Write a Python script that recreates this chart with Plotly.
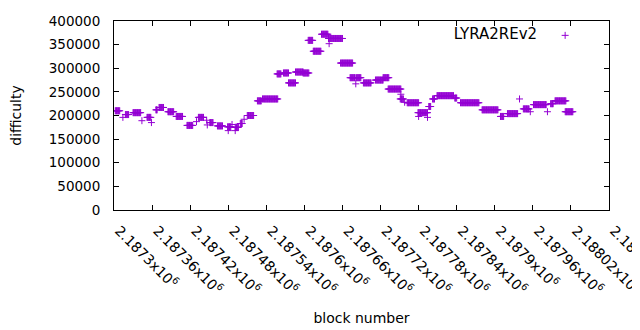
import plotly.graph_objects as go

# Difficulty runs: (first block, last block, difficulty)
run_start = [2187302, 2187314, 2187318, 2187330, 2187344, 2187352, 2187359, 2187366,
             2187371, 2187385, 2187398, 2187415, 2187430, 2187433, 2187446, 2187447,
             2187451, 2187463, 2187480, 2187479, 2187486, 2187491, 2187491, 2187499,
             2187505, 2187510, 2187526, 2187534, 2187557, 2187567, 2187575, 2187586,
             2187598, 2187606, 2187614, 2187627, 2187639, 2187638, 2187657, 2187672,
             2187681, 2187682, 2187693, 2187712, 2187724, 2187732, 2187752, 2187751,
             2187758, 2187762, 2187780, 2187779, 2187794, 2187796, 2187802, 2187809,
             2187837, 2187846, 2187880, 2187909, 2187920, 2187939, 2187945, 2187956,
             2187961, 2187983, 2187988, 2187995, 2188011]
run_end = [2187309, 2187314, 2187323, 2187342, 2187344, 2187358, 2187359, 2187368,
           2187378, 2187394, 2187408, 2187424, 2187430, 2187441, 2187446, 2187447,
           2187456, 2187471, 2187480, 2187484, 2187486, 2187491, 2187496, 2187502,
           2187505, 2187520, 2187532, 2187558, 2187563, 2187575, 2187586, 2187598,
           2187607, 2187613, 2187626, 2187637, 2187639, 2187660, 2187676, 2187680,
           2187681, 2187689, 2187705, 2187724, 2187733, 2187752, 2187752, 2187756,
           2187758, 2187780, 2187780, 2187794, 2187794, 2187799, 2187805, 2187835,
           2187840, 2187875, 2187905, 2187914, 2187936, 2187939, 2187954, 2187956,
           2187981, 2187983, 2187992, 2188012, 2188023]
run_diff = [210000, 196000, 202000, 206000, 189000, 196000, 185000, 212000,
            217000, 208000, 198000, 179000, 187000, 196000, 190000, 180000,
            185000, 178000, 168000, 176000, 181000, 168000, 175000, 183000,
            192000, 200000, 231000, 235000, 288000, 290000, 269000, 292000,
            290000, 359000, 336000, 372000, 352000, 363000, 311000, 280000,
            267000, 280000, 269000, 275000, 280000, 256000, 245000, 235000,
            228000, 227000, 198000, 206000, 196000, 219000, 235000, 242000,
            237000, 227000, 212000, 198000, 204000, 235000, 214000, 208000,
            223000, 208000, 225000, 231000, 208000]

x_tick_vals = [2187300, 2187360, 2187420, 2187480, 2187540, 2187600, 2187660,
               2187720, 2187780, 2187840, 2187900, 2187960, 2188020, 2188080]
x_tick_text = ["2.1873x10<sup>6</sup>", "2.18736x10<sup>6</sup>", "2.18742x10<sup>6</sup>",
               "2.18748x10<sup>6</sup>", "2.18754x10<sup>6</sup>", "2.1876x10<sup>6</sup>",
               "2.18766x10<sup>6</sup>", "2.18772x10<sup>6</sup>", "2.18778x10<sup>6</sup>",
               "2.18784x10<sup>6</sup>", "2.1879x10<sup>6</sup>", "2.18796x10<sup>6</sup>",
               "2.18802x10<sup>6</sup>", "2.18808x10<sup>6</sup>"]
y_tick_vals = [0, 50000, 100000, 150000, 200000, 250000, 300000, 350000, 400000]

blocks, diffs = [], []
for s, e, d in zip(run_start, run_end, run_diff):
    for b in range(s, e + 1):
        blocks.append(b)
        diffs.append(d)

FONT = "DejaVu Sans, Liberation Sans, Arial, sans-serif"
fig = go.Figure()
fig.add_trace(go.Scatter(
    x=blocks, y=diffs, mode="markers", name="",
    marker=dict(symbol="cross-thin", size=5, color="#9400D3",
                line=dict(color="#9400D3", width=1)),
))

axis_common = dict(showgrid=False, zeroline=False, showline=True, linecolor="black",
                   linewidth=1, mirror="allticks", ticks="inside", ticklen=5,
                   tickcolor="black", tickwidth=1, automargin=False)
# page body has an 8px margin, so the figure is sized to fit the 640x330 window
fig.update_layout(
    width=632, height=322,
    margin=dict(l=106, r=31, t=11, b=120),
    paper_bgcolor="white", plot_bgcolor="white",
    font=dict(family=FONT, color="black", size=14),
    showlegend=True,
    legend=dict(x=0.963, y=1.01, xanchor="right", yanchor="top",
                bgcolor="rgba(0,0,0,0)", itemwidth=30,
                title=dict(text="LYRA2REv2", side="left", font=dict(size=15)),
                font=dict(size=15)),
    xaxis=dict(range=[2187300, 2188080], tickmode="array", tickvals=x_tick_vals,
               ticktext=x_tick_text, tickangle=45, tickfont=dict(size=14),
               ticklabeloverflow="allow", ticklabelstandoff=6, ticklabelshift=5,
               title=dict(text="block number", font=dict(size=14), standoff=16),
               **axis_common),
    yaxis=dict(range=[0, 400000], tickmode="array", tickvals=y_tick_vals,
               tickformat="d", tickfont=dict(size=13.5), ticklabelstandoff=10,
               title=dict(text="difficulty", font=dict(size=14), standoff=26),
               **axis_common),
)
fig.write_html("out.html")
